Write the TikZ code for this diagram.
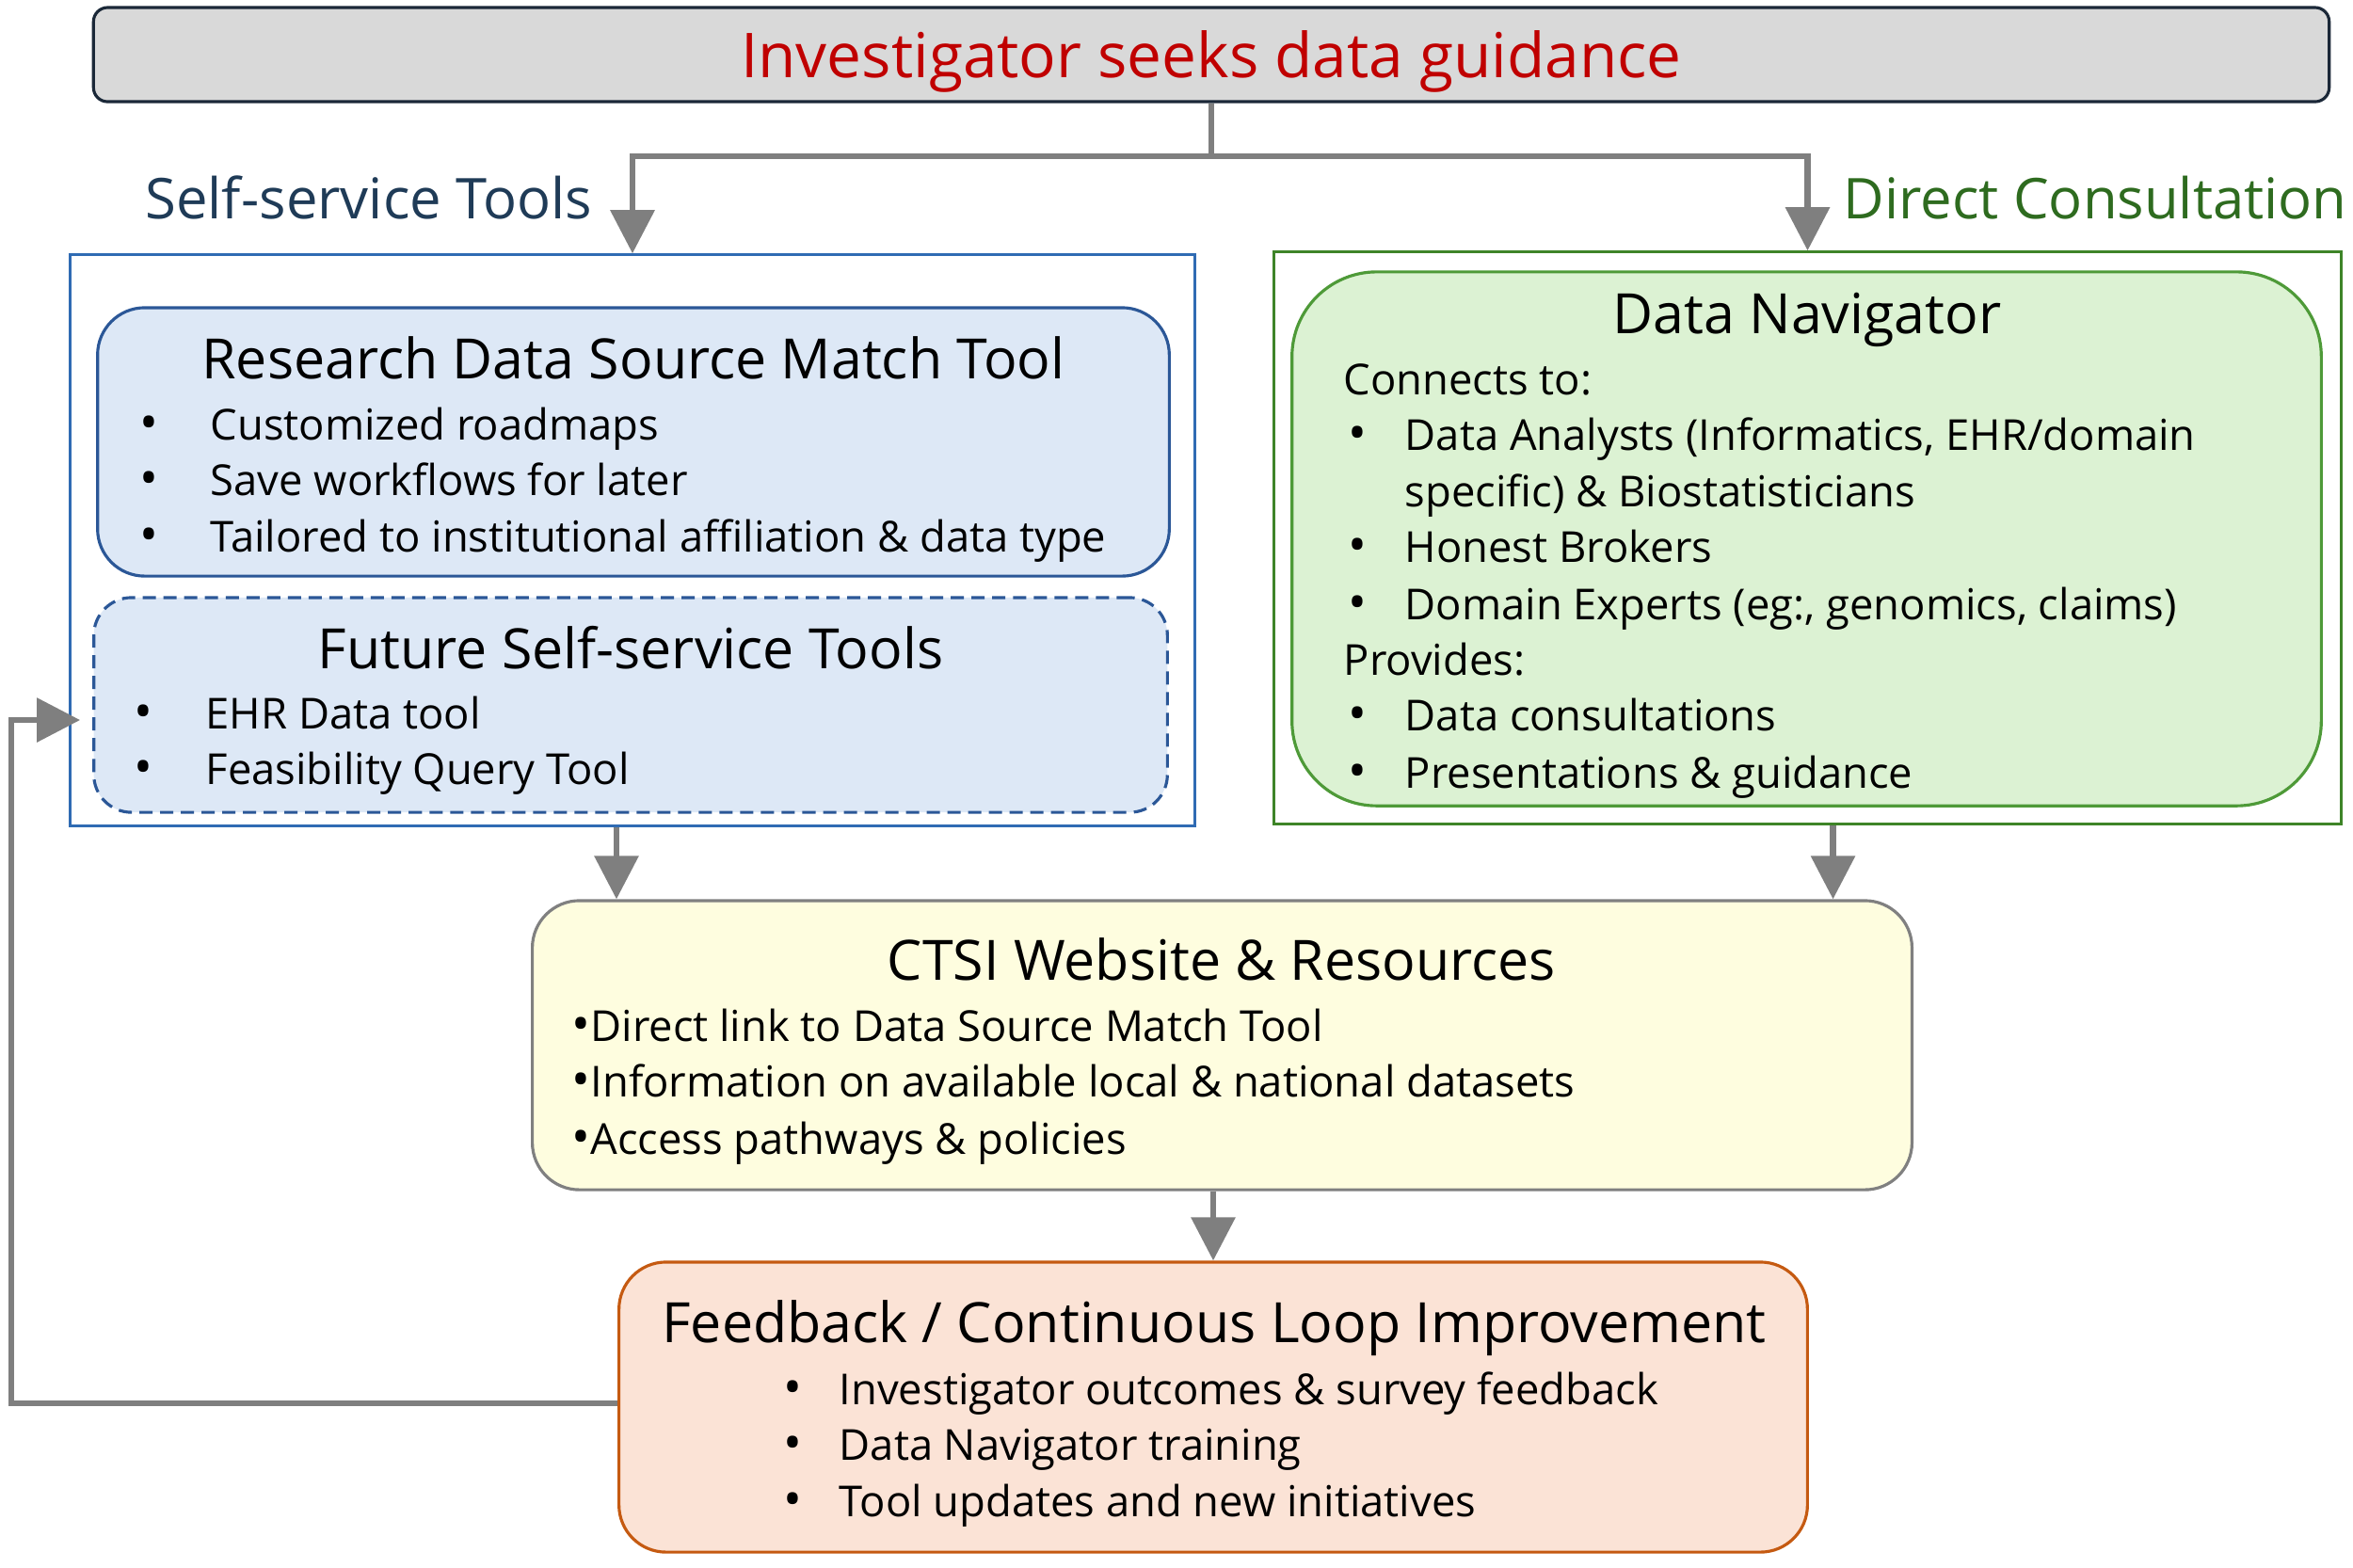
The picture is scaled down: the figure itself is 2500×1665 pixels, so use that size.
\documentclass[tikz,border=0pt]{standalone}
\usepackage{fontspec}
\setmainfont{Open Sans}
\usetikzlibrary{arrows.meta}
\definecolor{AskRed}{HTML}{C00000}
\definecolor{AskGray}{HTML}{D9D9D9}
\definecolor{AskEdge}{HTML}{1B2838}
\definecolor{SelfNavy}{HTML}{1F3B57}
\definecolor{SelfBlue}{HTML}{2F6BB3}
\definecolor{SelfEdge}{HTML}{2B5797}
\definecolor{SelfFill}{HTML}{DDE8F6}
\definecolor{ConsultGreen}{HTML}{2E6B1F}
\definecolor{ConsultEdge}{HTML}{3E8428}
\definecolor{NavEdge}{HTML}{4E9A38}
\definecolor{NavFill}{HTML}{DCF2D3}
\definecolor{WebFill}{HTML}{FEFDDF}
\definecolor{WebEdge}{HTML}{808080}
\definecolor{LoopEdge}{HTML}{C55A11}
\definecolor{LoopFill}{HTML}{FBE3D6}
\definecolor{FlowGray}{HTML}{7F7F7F}

\begin{document}
\begin{tikzpicture}[
  x=0.01cm,y=-0.01cm,
  every node/.style={inner sep=0pt},
  panel/.style={draw,line width=0.9pt},
  head/.style={anchor=mid,yshift=-0.12cm,font=\fontsize{16.8}{20}\selectfont},
  item/.style={anchor=mid west,yshift=-0.08cm,font=\fontsize{12.9}{17}\selectfont},
  dot/.style={anchor=mid west,yshift=-0.08cm,font=\fontsize{15}{17}\selectfont},
  flow/.style={draw=FlowGray,line width=1.8pt,-{Triangle[length=0.46cm,width=0.46cm]}}
]
  \useasboundingbox (0,0) rectangle (2500,1665);

  \node[panel,draw=AskEdge,fill=AskGray,rounded corners=0.15cm,
        minimum width=23.74cm,minimum height=1cm] (ask) at (1287,58) {};
  \node[head,text=AskRed,font=\fontsize{18.7}{22}\selectfont] (asktext) at (1287,61)
    {Investigator seeks data guidance};

  \node[anchor=mid east,yshift=-0.11cm,text=SelfNavy,font=\fontsize{17}{20}\selectfont] (selflab) at (630,212)
    {Self-service Tools};
  \node[anchor=mid west,yshift=-0.11cm,text=ConsultGreen,font=\fontsize{17}{20}\selectfont] (consultlab) at (1958,212)
    {Direct Consultation};

  \node[panel,draw=SelfBlue,minimum width=11.94cm,minimum height=6.06cm] (selfbox) at (672,574) {};
  \node[panel,draw=SelfEdge,fill=SelfFill,rounded corners=0.5cm,
        minimum width=11.38cm,minimum height=2.85cm] (rdsm) at (673,469.5) {};
  \node[panel,draw=SelfEdge,fill=SelfFill,rounded corners=0.4cm,dash pattern=on 0.14cm off 0.08cm,
        minimum width=11.40cm,minimum height=2.28cm] (future) at (670,749) {};

  \node[head] (rdsmhead) at (673,381) {Research Data Source Match Tool};
  \foreach \y/\lab [count=\i] in {450/Customized roadmaps,509/Save workflows for later,
      569/Tailored to institutional affiliation \& data type}{
    \node[dot] (rdsmdot\i) at (148,\y) {\textbullet};
    \node[item] (rdsm\i) at (223,\y) {\lab};
  }
  \node[head] (futurehead) at (670,689) {Future Self-service Tools};
  \foreach \y/\lab [count=\i] in {757/EHR Data tool,816/Feasibility Query Tool}{
    \node[dot] (futuredot\i) at (142,\y) {\textbullet};
    \node[item] (future\i) at (218,\y) {\lab};
  }

  \node[panel,draw=ConsultEdge,minimum width=11.33cm,minimum height=6.07cm] (consult) at (1920.5,571.5) {};
  \node[panel,draw=NavEdge,fill=NavFill,rounded corners=0.9cm,
        minimum width=10.93cm,minimum height=5.67cm] (nav) at (1919.5,572.5) {};
  \node[head] (navhead) at (1920,333) {Data Navigator};
  \foreach \y/\lab [count=\i] in {402/Connects to:,700/Provides:}
    \node[item] (navsub\i) at (1427,\y) {\lab};
  \foreach \y [count=\i] in {461,580,641,759,820}
    \node[dot] (navdot\i) at (1432,\y) {\textbullet};
  \foreach \y/\lab [count=\i] in {461/{Data Analysts (Informatics, EHR/domain},
      521/{specific) \& Biostatisticians},580/Honest Brokers,
      641/{Domain Experts (eg:, genomics, claims)},759/Data consultations,
      820/Presentations \& guidance}
    \node[item] (nav\i) at (1492,\y) {\lab};

  \node[panel,draw=WebEdge,fill=WebFill,rounded corners=0.5cm,
        minimum width=14.65cm,minimum height=3.07cm] (web) at (1298.5,1110.5) {};
  \node[head] (webhead) at (1298,1020) {CTSI Website \& Resources};
  \foreach \y/\lab [count=\i] in {1089/Direct link to Data Source Match Tool,
      1148/Information on available local \& national datasets,
      1209/Access pathways \& policies}
    \node[item] (web\i) at (607,\y) {{\fontsize{15}{17}\selectfont\textbullet}\lab};

  \node[panel,draw=LoopEdge,fill=LoopFill,rounded corners=0.5cm,
        minimum width=12.62cm,minimum height=3.08cm] (loop) at (1289,1495) {};
  \node[head] (loophead) at (1290,1405) {Feedback / Continuous Loop Improvement};
  \foreach \y/\lab [count=\i] in {1475/Investigator outcomes \& survey feedback,
      1534/Data Navigator training,1594/Tool updates and new initiatives}{
    \node[dot] (loopdot\i) at (832,\y) {\textbullet};
    \node[item] (loop\i) at (891,\y) {\lab};
  }

  \coordinate (split) at (1287,166);
  \coordinate (back) at (12,1491);
  \draw[flow] (ask.south) -- (split) -| (selfbox.north);
  \draw[flow] (split) -| (consult.north);
  \draw[flow] ([xshift=-0.17cm]selfbox.south) -- ([xshift=-0.17cm]selfbox.south |- web.north);
  \draw[flow] ([xshift=0.27cm]consult.south) -- ([xshift=0.27cm]consult.south |- web.north);
  \draw[flow] (web.south -| loop.north) -- (loop.north);
  \draw[flow,shorten >=0.13cm] (loop.west |- back) -- (back) |- ([yshift=-0.16cm]future.west);
\end{tikzpicture}
\end{document}
